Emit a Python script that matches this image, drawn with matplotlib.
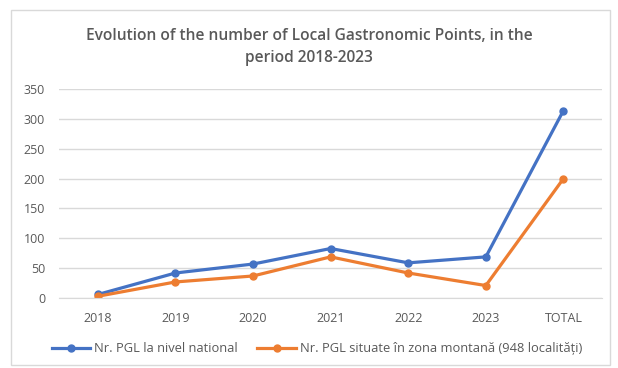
import matplotlib
matplotlib.use('Agg')
import matplotlib.pyplot as plt
from matplotlib.patches import Rectangle

# ── Data ──────────────────────────────────────────────────────────────────────
categories = ['2018', '2019', '2020', '2021', '2022', '2023', 'TOTAL']
national   = [6, 42, 57, 83, 59, 69, 314]
mountain   = [3, 27, 37, 69, 42, 21, 200]
y_ticks    = [0, 50, 100, 150, 200, 250, 300, 350]

TITLE = 'Evolution of the number of Local Gastronomic Points, in the\nperiod 2018-2023'
LABEL_NAT = 'Nr. PGL la nivel national'
LABEL_MNT = 'Nr. PGL situate în zona montană (948 localități)'

BLUE   = '#4472C4'
ORANGE = '#ED7D31'
GREY   = '#595959'

plt.rcParams['font.family'] = ['Open Sans', 'DejaVu Sans']

fig = plt.figure(figsize=(6.18, 3.68), dpi=100)
# chart frame
fig.patches.append(Rectangle((0.018, 0.008), 0.969, 0.965, transform=fig.transFigure,
                             fill=False, edgecolor='#d9d9d9', linewidth=1))

ax = fig.add_axes([0.0955, 0.190, 0.879, 0.568])
x = range(len(categories))
ax.plot(x, national, color=BLUE, linewidth=2.3, marker='o', markersize=5, label=LABEL_NAT)
ax.plot(x, mountain, color=ORANGE, linewidth=2.3, marker='o', markersize=5, label=LABEL_MNT)

ax.set_xlim(-0.5, len(categories) - 0.5)
ax.set_ylim(0, 350)
ax.set_yticks(y_ticks)
ax.set_xticks(list(x))
ax.set_xticklabels(categories)
ax.grid(axis='y', color='#d9d9d9', linewidth=1)
ax.set_axisbelow(True)
for s in ['top', 'right', 'left']:
    ax.spines[s].set_visible(False)
ax.spines['bottom'].set_color('#d9d9d9')
ax.tick_params(axis='y', length=0, labelsize=9, labelcolor=GREY, pad=10)
ax.tick_params(axis='x', length=0, labelsize=9, labelcolor=GREY, pad=10)

fig.text(0.5, 0.872, TITLE, ha='center', va='center', fontsize=11.2,
         fontweight='semibold', color=GREY, linespacing=1.55)

fig.legend(loc='center', bbox_to_anchor=(0.513, 0.052), ncol=2, frameon=False,
           fontsize=9.3, labelcolor=GREY, handlelength=3, columnspacing=1.5,
           handletextpad=0.3)

plt.savefig('out.png', dpi=100)
plt.close()
